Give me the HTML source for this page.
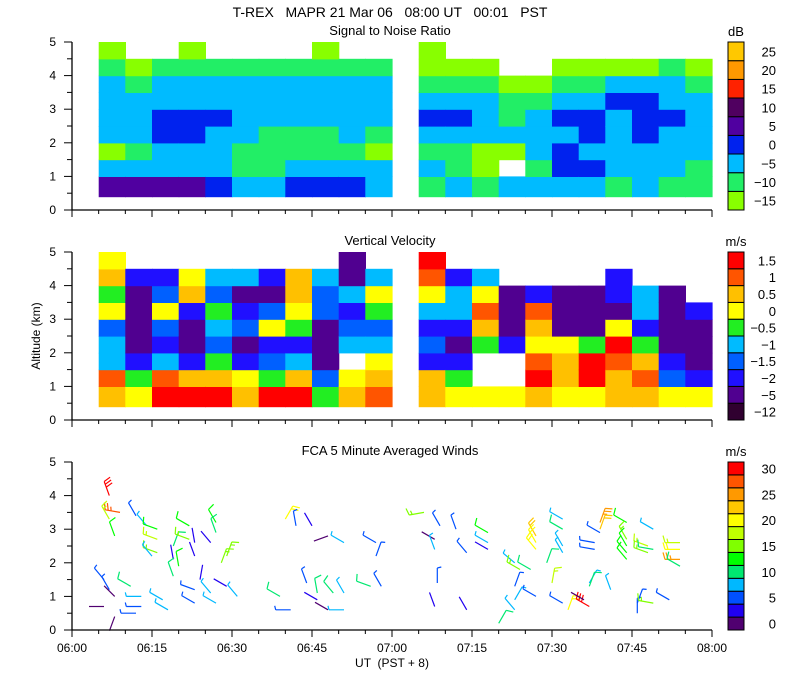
<!DOCTYPE html>
<html><head><meta charset="utf-8">
<style>
html,body{margin:0;padding:0;background:#fff;}
svg{display:block;font-family:"Liberation Sans",sans-serif;}
</style></head>
<body>
<svg id="chart" width="800" height="700" viewBox="0 0 800 700" xmlns="http://www.w3.org/2000/svg">
<text x="390" y="17" text-anchor="middle" font-size="14" xml:space="preserve">T-REX   MAPR 21 Mar 06   08:00 UT   00:01   PST</text>
<text x="390" y="35" text-anchor="middle" font-size="13">Signal to Noise Ratio</text>
<text x="390" y="245" text-anchor="middle" font-size="13">Vertical Velocity</text>
<text x="390" y="455" text-anchor="middle" font-size="13">FCA 5 Minute Averaged Winds</text>
<text x="736" y="36" text-anchor="middle" font-size="13">dB</text>
<text x="736" y="246" text-anchor="middle" font-size="13">m/s</text>
<text x="736" y="456" text-anchor="middle" font-size="13">m/s</text>
<text x="0" y="0" transform="translate(40,336) rotate(-90)" text-anchor="middle" font-size="12">Altitude (km)</text>
<text x="392" y="667" text-anchor="middle" font-size="12" xml:space="preserve">UT  (PST + 8)</text>
<g id="layer"></g>
</svg>
<script>
// ---- data ----
const altEdges = [0.4,1,1.5,2,2.5,3,3.5,4,4.5,5];
const seg1Start = 5, seg2Start = 65, colMinutes = 5;
const snrSeg1 = [
 [5,-5,-15,-5,-5,-5,-5,-10,-15],
 [5,-5,-10,-5,-5,-5,-10,-15,null],
 [5,-5,-5,0,0,-5,-5,-10,null],
 [5,-5,-5,0,0,-5,-5,-10,-15],
 [0,-5,-5,-5,0,-5,-5,-10,null],
 [-5,-10,-10,-5,-5,-5,-5,-10,null],
 [-5,-10,-10,-10,-5,-5,-5,-10,null],
 [0,-5,-10,-10,-5,-5,-5,-10,null],
 [0,-5,-10,-10,-5,-5,-5,-10,-15],
 [0,-5,-10,-5,-5,-5,-5,-10,null],
 [-5,-5,-15,-10,-5,-5,-5,-10,null]
];
const snrSeg2 = [
 [-10,-5,-10,-5,0,-5,-10,-15,-15],
 [-5,-10,-10,-5,0,-5,-10,-15,null],
 [-10,-15,-15,-5,-5,-5,-10,-15,null],
 [-5,null,-15,-5,-10,-10,-15,null,null],
 [-5,-10,-5,-5,-5,-10,-15,null,null],
 [-5,0,0,-5,0,-5,-10,-15,null],
 [-5,0,-5,0,0,-5,-10,-15,null],
 [-10,-5,-5,-5,-5,0,-5,-15,null],
 [-5,-5,-5,0,0,0,-5,-15,null],
 [-10,-5,-5,-5,0,-5,-5,-10,null],
 [-10,-10,-5,-5,-5,-5,-10,-15,null]
];
const velSeg1 = [
 [0.5,1,-1,-1,-1.5,0,-0.5,0.5,0],
 [0,-0.5,-2,-5,-5,-5,-5,-2,null],
 [1.5,1,-1,-2,-1.5,0,-1.5,-2,null],
 [1.5,0.5,-2,-5,-5,-2,0.5,0,null],
 [1.5,0.5,-0.5,-1.5,-1,-0.5,-1.5,-1,null],
 [0.5,0,-2,-5,-1.5,-2,-5,-1,null],
 [1.5,-0.5,-1.5,-2,0,-1.5,-5,-2,null],
 [1.5,0.5,-1,-2,-0.5,0,0.5,0.5,null],
 [-0.5,-1.5,-5,-5,-5,-1.5,-1.5,-1,null],
 [0.5,0,null,-1,-1.5,-2,-1,-5,-5],
 [1,0.5,0,-1,-1.5,-0.5,0,-1,null]
];
const velSeg2 = [
 [0.5,0.5,-2,-1.5,-2,-1,0,1,1.5],
 [0,-0.5,-2,-5,-2,-1,-1,-2,null],
 [0,null,null,-0.5,0.5,1,0,-1,null],
 [0,null,null,-2,-5,-5,-5,null,null],
 [0.5,1.5,1,0,0.5,1,-2,null,null],
 [0,0.5,0.5,0,-5,-5,-5,null,null],
 [0,1.5,1.5,-0.5,-5,-5,-5,null,null],
 [0.5,0.5,1,1.5,0,-5,-2,-2,null],
 [0.5,1,0.5,-0.5,-2,-1,-1,null,null],
 [0,-1.5,-2,-5,-5,-5,-5,null,null],
 [0,-2,-5,-5,-5,-2,null,null,null]
];
// wind barbs: time (min after 06:00), altitude km, speed m/s, direction deg
const windTime = [7,9,7,8,12,14,16,16,16,15,19,19,22,22,23,23,27,27,26,29,28,6,7,8,6,8,11,13,13,12,17,18,19,20,23,23,24,26,27,29,31,40,42,45,48,51,57,57,39,41,44,46,49,46,48,51,51,56,58,
 66,69,68,68,72,74,78,78,78,68.5,68,74,80,83,83,83,83,84,86,87,87,87,87,89,90,92,92,92,92,92,93,97,97,97,96,99,99,99,98,98,101,104,104,104,104,104,106,106,108,108,109,109,109,112,114,114,114,114];
const windAlt = [4.0,3.5,3.3,2.8,3.4,3.1,3.0,2.7,2.3,2.2,2.1,2.5,3.1,2.7,2.6,2.2,3.2,2.9,2.6,2.2,2.0,1.5,1.2,1.0,0.7,0.4,1.3,1.0,0.7,0.5,0.9,0.6,1.6,1.9,1.2,0.8,1.5,1.1,0.8,1.3,1.0,3.3,3.1,3.1,2.8,2.6,2.6,2.2,1.0,0.6,1.4,1.1,1.1,0.9,0.6,1.1,0.6,1.3,1.3,
 3.5,3.1,2.7,2.4,3.0,2.3,2.9,2.6,2.4,1.4,0.7,0.6,0.2,1.3,0.9,0.6,2.0,1.8,1.8,2.8,2.6,2.4,1.0,2.0,1.4,3.3,3.0,2.5,2.3,0.8,0.6,1.4,1.3,0.7,0.9,3.2,3.0,2.9,2.6,2.4,1.2,3.2,2.7,2.5,2.3,2.1,0.8,0.5,2.5,2.3,2.4,3.0,0.8,0.9,2.6,2.4,2.1,1.9];
const windSpeed = [30,29,18,14,6,8,13,18,17,8,4,12,14,16,4,4,14,12,4,16,15,5,5,1,0,0,12,8,5,5,8,8,12,13,7,5,4,8,8,3,8,20,5,4,1,8,5,5,12,5,5,12,10,4,2,9,8,12,6,
 17,5,1,8,5,5,13,9,4,5,4,4,12,5,8,8,9,16,12,23,22,22,5,12,18,9,11,9,9,5,20,9,12,30,1,25,24,5,5,5,9,13,15,14,13,14,5,5,18,17,10,8,16,5,18,20,27,10];
const windDir = [340,280,330,340,330,320,290,290,290,320,350,20,300,290,350,340,330,340,320,20,20,320,330,315,270,200,300,270,270,270,300,300,340,350,290,300,10,320,300,300,320,30,350,330,250,300,300,20,300,270,340,350,320,300,300,330,270,290,330,
 260,330,300,340,340,320,300,300,300,0,340,330,30,20,30,320,310,300,300,330,330,320,300,20,10,300,300,330,330,300,20,30,20,300,300,20,20,300,280,280,340,300,330,330,320,320,20,0,290,290,280,300,280,300,270,270,270,300];
// colorbars
const snrColors = ['#88ff00','#22ee66','#00bbff','#0022ee','#5000a0','#500060','#ff2200','#ff9900','#ffc800'];
const snrLevels = [-15,-10,-5,0,5,10,15,20,25];
const velColors = ['#300030','#500090','#2010ff','#0060ff','#00bbff','#22ee22','#ffff00','#ffc000','#ff5500','#ff0000'];
const velLevels = [-12,-5,-2,-1.5,-1,-0.5,0,0.5,1,1.5];
const windColors = ['#500070','#2000f0','#0050ff','#00b8ff','#00e870','#00ff00','#80ff00','#c0ff00','#ffff00','#ffc800','#ff9900','#ff5500','#ff0000'];
const windTicks = [0,5,10,15,20,25,30];
const timeTicks = ['06:00','06:15','06:30','06:45','07:00','07:15','07:30','07:45','08:00'];
const altTicks = [0,1,2,3,4,5];

// ---- geometry ----
const NS='http://www.w3.org/2000/svg';
const layer=document.getElementById('layer');
const X0=72, X1=712;
const panels=[{top:42,bot:210,name:'snr'},{top:252,bot:420,name:'velocity'},{top:462,bot:630,name:'winds'}];
function xScale(t){return X0+(X1-X0)*t/120;}
function yScale(p,a){return p.bot-(p.bot-p.top)*a/5;}
function mk(tag,attrs){const e=document.createElementNS(NS,tag);for(const k in attrs)e.setAttribute(k,attrs[k]);layer.appendChild(e);return e;}
function levelColor(levels,colors,v){let i=0;for(let k=0;k<levels.length;k++){if(v>=levels[k])i=k;}return colors[i];}

function drawHeat(p,segs,levels,colors,nm){
  segs.forEach((seg,si)=>{
    const start = si===0?seg1Start:seg2Start;
    seg.forEach((col,ci)=>{
      const xa=xScale(start+ci*colMinutes), xb=xScale(start+(ci+1)*colMinutes);
      col.forEach((v,ri)=>{
        if(v===null)return;
        const ya=yScale(p,altEdges[ri+1]), yb=yScale(p,altEdges[ri]);
        const r=mk('rect',{x:xa.toFixed(1),y:ya.toFixed(1),width:(xb-xa+0.6).toFixed(1),height:(yb-ya+0.6).toFixed(1),fill:levelColor(levels,colors,v)});
        
        
      });
    });
  });
}
drawHeat(panels[0],[snrSeg1,snrSeg2],snrLevels,snrColors,'snr');
drawHeat(panels[1],[velSeg1,velSeg2],velLevels,velColors,'velocity');

// wind barbs
const wp=panels[2];
for(let i=0;i<windTime.length;i++){
  const x=xScale(windTime[i]), y=yScale(wp,windAlt[i]);
  const s=windSpeed[i], d=windDir[i]*Math.PI/180;
  const col=windColors[Math.min(12,Math.floor(s/2.5))];
  const ux=Math.sin(d), uy=-Math.cos(d);
  const L=15, ex=x+ux*L, ey=y+uy*L;
  const px=-uy, py=ux;
  let path='M'+x.toFixed(1)+' '+y.toFixed(1)+'L'+ex.toFixed(1)+' '+ey.toFixed(1);
  let full=Math.floor(s/10), half=(s%10)>=5?1:0, pos=0;
  for(let f=0;f<full;f++){const bx=ex-ux*pos*3, by=ey-uy*pos*3;path+='M'+bx.toFixed(1)+' '+by.toFixed(1)+'l'+((px*7+ux*2).toFixed(1))+' '+((py*7+uy*2).toFixed(1));pos++;}
  if(half){const bx=ex-ux*pos*3, by=ey-uy*pos*3;path+='M'+bx.toFixed(1)+' '+by.toFixed(1)+'l'+((px*4+ux*1).toFixed(1))+' '+((py*4+uy*1).toFixed(1));}
  const b=mk('path',{d:path,stroke:col,'stroke-width':1.2,fill:'none'});
  
  
}

// axes
panels.forEach(p=>{
  const ax=mk('path',{d:'M'+X0+' '+p.top+'V'+p.bot+'H'+X1,stroke:'#000','stroke-width':1.3,fill:'none'});
  
  
  for(let m=0;m<=120;m+=5){
    const x=xScale(m), len=(m%15===0)?7:4;
    const t=mk('line',{x1:x,y1:p.bot,x2:x,y2:p.bot+len,stroke:'#000','stroke-width':1});
    
    
  }
  for(let a=0;a<=10;a++){
    const y=yScale(p,a/2);
    const t=mk('line',{x1:X0-(a%2===0?8:5),y1:y,x2:X0,y2:y,stroke:'#000','stroke-width':1});
    
    
  }
  altTicks.forEach(a=>{
    const t=mk('text',{x:56,y:yScale(p,a)+4,'text-anchor':'end','font-size':12});
    t.textContent=a;
    
    
  });
});
timeTicks.forEach((lab,i)=>{
  const t=mk('text',{x:xScale(i*15),y:652,'text-anchor':'middle','font-size':12});
  t.textContent=lab;
  
  
});

// colorbars
function colorbar(p,colors,labels,every,nm){
  const n=colors.length, h=(p.bot-p.top)/n;
  for(let k=0;k<n;k++){
    const y=p.bot-(k+1)*h;
    const r=mk('rect',{x:728,y:y.toFixed(1),width:16,height:h.toFixed(1),fill:colors[k],stroke:'#000','stroke-width':1});
    
    
  }
  labels.forEach((lab,j)=>{
    const k=j*every;
    const t=mk('text',{x:776,y:(p.bot-(k+0.5)*h+5).toFixed(1),'text-anchor':'end','font-size':13});
    t.textContent=String(lab).replace('-','\u2212');
    
    
  });
}
colorbar(panels[0],snrColors,snrLevels,1,'snr');
colorbar(panels[1],velColors,velLevels,1,'velocity');
colorbar(panels[2],windColors,windTicks,2,'winds');
</script>
</body></html>
